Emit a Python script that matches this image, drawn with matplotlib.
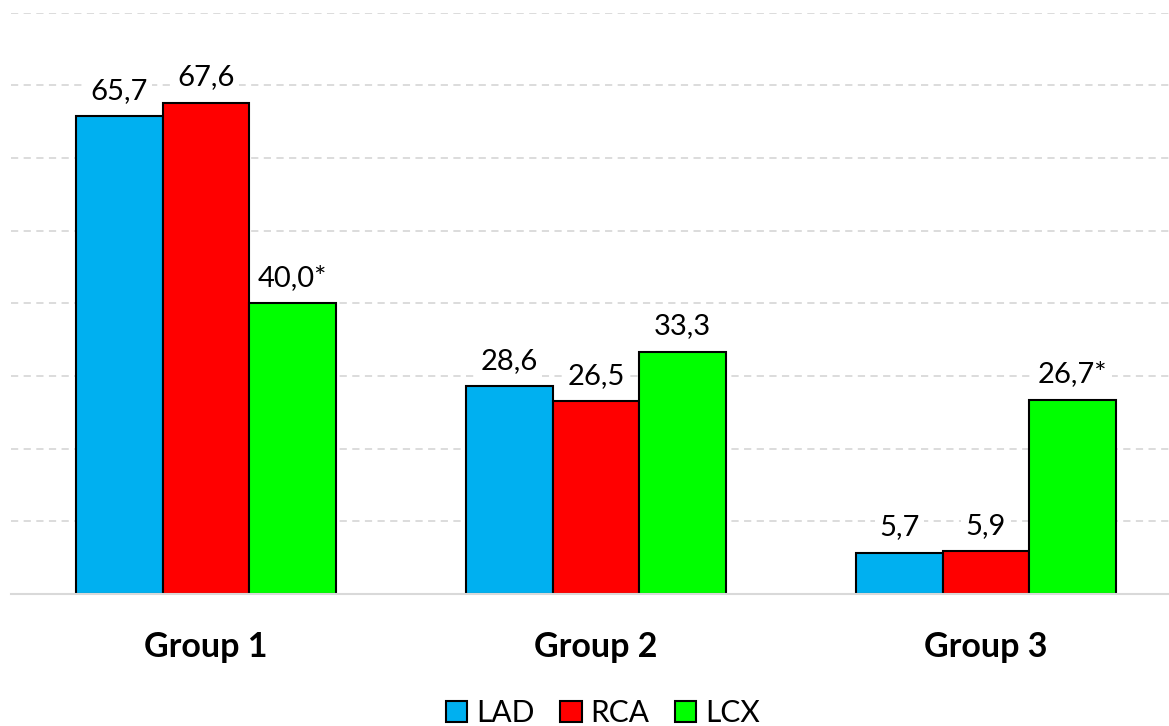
import matplotlib.pyplot as plt
import numpy as np
from matplotlib.patches import Patch

plt.rcParams['font.family'] = ['Lato', 'DejaVu Sans']

groups = ['Group 1', 'Group 2', 'Group 3']
series = ['LAD', 'RCA', 'LCX']
colors = ['#00b0f0', '#ff0000', '#00ff00']
lad = [65.7, 28.6, 5.7]
rca = [67.6, 26.5, 5.9]
lcx = [40.0, 33.3, 26.7]
marks = [['', '', '*'], ['', '', ''], ['', '', '*']]  # per group, per series

values = [lad, rca, lcx]

fig = plt.figure(figsize=(11.69, 7.26), dpi=100)
ax = fig.add_axes([11 / 1169, 1 - 594 / 726, 1170 / 1169, (594 - 12.5) / 726])

x = np.arange(len(groups))
width = 0.222
for i, (name, vals, col) in enumerate(zip(series, values, colors)):
    pos = x + (i - 1) * width
    bars = ax.bar(pos, vals, width, color=col, edgecolor='black', linewidth=1.5,
                  label=name, zorder=3)
    for j, (b, v) in enumerate(zip(bars, vals)):
        txt = f'{v:.1f}'.replace('.', ',') + marks[j][i]
        ax.annotate(txt, (b.get_x() + b.get_width() / 2, v), xytext=(0, 9),
                    textcoords='offset points', ha='center', va='bottom',
                    fontsize=21, zorder=4,
                    bbox=dict(boxstyle='square,pad=0.15', fc='white', ec='none'))

ax.set_xlim(-0.5, 2.5)
ax.set_ylim(0, 80)
ax.set_yticks(np.arange(0, 81, 10))
ax.yaxis.grid(True, color='#d9d9d9', linestyle=(0, (4, 3)), linewidth=1.3, zorder=0)
ax.tick_params(left=False, labelleft=False, bottom=False)
for s in ['top', 'right', 'left']:
    ax.spines[s].set_visible(False)
ax.spines['bottom'].set_color('#d9d9d9')
ax.spines['bottom'].set_linewidth(1.5)
ax.spines['bottom'].set_zorder(5)

ax.set_xticks(x)
ax.set_xticklabels(groups, fontsize=24.5, fontweight='bold')
ax.tick_params(axis='x', pad=23)

handles = [Patch(facecolor=c, edgecolor='black', linewidth=1.5, label=n)
           for n, c in zip(series, colors)]
fig.legend(handles=handles, loc='center', bbox_to_anchor=(603 / 1169, 1 - 713 / 726),
           ncol=3, frameon=False, fontsize=21.5, handlelength=0.72, handleheight=0.72,
           handletextpad=0.3, columnspacing=0.85, borderaxespad=0)

fig.savefig('out.png', dpi=100)
